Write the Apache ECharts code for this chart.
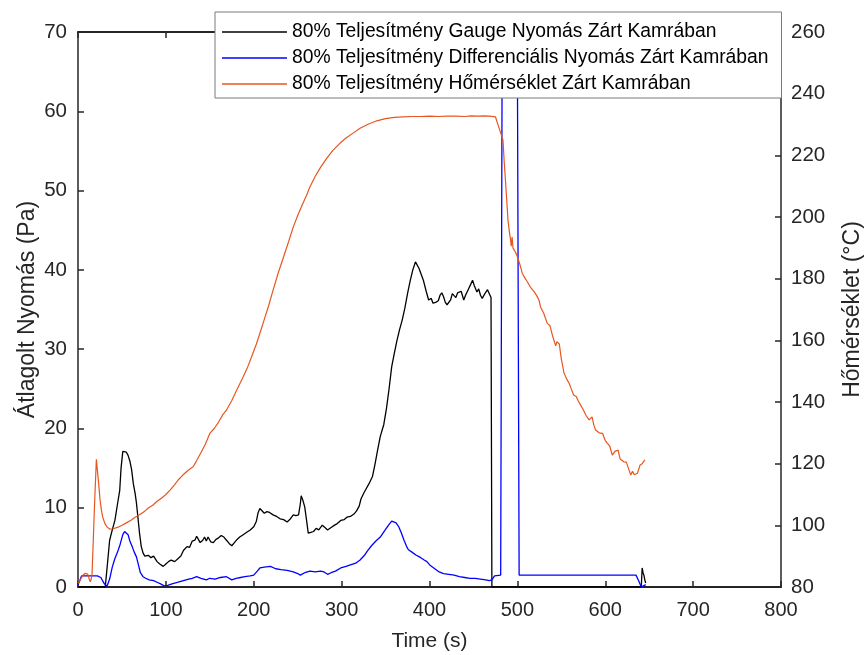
<!DOCTYPE html>
<html>
<head>
<meta charset="utf-8">
<script src="https://cdn.jsdelivr.net/npm/echarts@6/dist/echarts.min.js"></script>
<style>html,body{margin:0;padding:0;background:#fff}#c{width:865px;height:655px}</style>
</head>
<body>
<div id="c"></div>
<script>
const seriesNames = [
  '80% Teljesítmény Gauge Nyomás Zárt Kamrában',
  '80% Teljesítmény Differenciális Nyomás Zárt Kamrában',
  '80% Teljesítmény Hőmérséklet Zárt Kamrában'
];
const xTicks = [0,100,200,300,400,500,600,700,800];
const leftTicks = [0,10,20,30,40,50,60,70];
const rightTicks = [80,100,120,140,160,180,200,220,240,260];

const gaugeTime = [0,31,34,36,39,42,45,47.5,49,51,53,55,57,59,61,63,65,66.5,68,70,72,74,76,78,80,83,86,88,90,93,97,100,103,106,110,114,117,120,124,127,130,133,135,137,139,142,144,146,148,151,154,157,160,163,166,169,172,175,178,181,184,188,192,196,200,203,205,207,209,212,215,218,222,226,230,234,238,241,245,248,251,253,254,256,258,260,262,265,268,271,274,278,281,284,288,292,295,299,303,306,310,314,317,320,322,325,327,331,335,338,341,344,348,351,354,357,360,363,366,369,372,375,378,381,384,386,388,390,393,396,399,402,404,407,410,412,414,416,418,420,422,424,426,428,430,432,434,436,439,441,444,447,449,451,454,456,458,460,463,466,468,470,471,641,642,643,644,645,646];
const gaugeVal = [0,0,3.5,5.9,7.2,8.4,10.5,12.2,15,17.1,16.9,17,16.6,15.9,14.8,13,11.8,10.6,9,6.8,5.1,4.3,3.9,3.8,4.0,3.7,3.9,3.8,3.2,2.9,2.6,2.9,3.2,3.4,3.2,3.6,3.9,4.6,5.1,5.0,5.8,5.9,6.4,6.0,5.6,5.9,6.3,5.8,6.3,5.7,5.6,6.0,6.2,6.5,6.3,5.9,5.5,5.2,5.6,6.0,6.3,6.6,6.9,7.2,7.6,8.3,9.4,9.9,9.8,9.3,9.5,9.4,9.1,8.9,8.6,8.5,8.2,8.5,9.1,9.0,9.1,10.5,11.5,10.9,10.1,8.5,6.8,6.9,7.0,7.4,7.2,7.8,7.5,7.2,7.5,7.8,8.0,8.4,8.5,8.8,8.9,9.2,9.6,10.2,11.1,11.8,12.2,13.0,13.9,15.5,17.3,19,20.5,22.5,25,27.8,29.5,31.1,32.5,33.7,35.2,37,38.6,40,41,40.8,40.2,40,38.7,37.4,36.2,36.4,35.8,35.9,36.1,36.8,37.1,36.6,35.9,35.6,35.6,36.2,37.0,36.8,36.5,37.1,36.9,37.3,36.2,36.8,37.5,38.2,38.7,38.0,37.2,37.6,36.8,36.4,37.0,37.5,37.7,36.5,0,0,2.4,1.8,1.5,0.9,0.5];

const diffTime = [0,2,4,10,16,22,26,30,33,36,39,42,45,48,51,53,55,57,59,62,64,66.5,69,71,74,77,81,86,90,94,98,102,107,114,120,126,130,135,140,146,150,156,162,169,175,180,185,190,196,200,204,207,212,219,225,231,238,245,250,253,258,264,270,276,280,284,288,293,299,305,310,316,321,326,329,334,339,344,349,354,357,359,362,365,368,371,374,376,380,385,390,394,397,401,406,411,416,422,428,434,440,446,452,458,464,468,471,474,481,483,483.5,499,502,560,635,638,641,643,646];
const diffVal = [0.3,0.8,1.4,1.4,1.4,1.4,1.2,0.4,0.1,1.0,2.5,3.6,4.4,5.4,6.6,7.0,6.8,6.6,5.8,5.0,4.4,3.8,2.7,1.8,1.3,1.1,0.9,0.8,0.6,0.4,0.15,0.2,0.4,0.6,0.8,1.0,1.1,1.3,1.1,0.9,1.1,1.0,1.2,1.3,0.9,1.1,1.2,1.3,1.4,1.5,2.0,2.4,2.5,2.6,2.3,2.2,2.1,1.9,1.7,1.5,1.8,2.0,1.9,2.0,1.9,1.6,1.8,2.0,2.4,2.6,2.8,3.0,3.4,4.0,4.5,5.2,5.8,6.3,7.1,7.9,8.3,8.5,8.1,7.6,6.8,5.9,5.1,4.7,4.4,4.0,3.7,3.4,3.2,2.7,2.3,1.9,1.7,1.6,1.5,1.3,1.2,1.1,1.1,1.0,0.9,0.8,0.9,1.4,1.5,1.6,100,100,1.5,1.5,1.5,0.8,0,0.1,0.3];

const tempTime = [0,3,5.7,8,9.5,11,12,13,14,15,16,17,18,19,20,20.9,22,23.5,25,26.6,28,30.4,33,36,40,45.6,50,55,60.8,65,70,76,80,85,90,95,100,105,110,114,120,125,131,135,140,145,150,155,160,165,169,175,180,185,188,193,198,203,207,212,217,222,228,234,240,245,250,255,260,264,270,276,283,290,298,305,313,321,330,340,350,360,370,380,390,400,410,420,430,440,447,455,462,468,475,479,483.6,485,486.6,488,489.3,491,492.3,493,494,495,496,498,500,503,505.6,508,511.3,515,519,522,524.6,526.5,530,534,537,540,543.6,545,547.7,550,553,556,559,561,564,567,569,572,575,578,581.6,585,587,589,593,597,600,602.5,605,608,611,614.6,617,621,624,627,629,631,633,636.6,638,639.7,642,645];
const tempVal = [81.2,82.5,83.9,84.4,84.6,84.2,83.3,82.4,81.7,82.5,84.4,92,100,108,115,121.4,118,113.6,108.5,105,102.8,100.7,99.5,98.8,98.9,99.4,100.0,100.8,101.7,102.6,103.4,104.6,105.6,106.5,107.8,108.8,110,111.5,113.2,114.7,116.5,117.8,119,121,123.6,126.4,129.8,131.4,133.5,136,137.4,140.5,143.5,146.4,148.2,151.3,155,158.8,162.3,166.8,171.3,176.3,182,187.1,192.3,196.8,200.5,203.8,207,209.8,213.2,216.1,219,221.6,223.9,225.6,227.2,228.8,230.1,231.2,231.9,232.3,232.5,232.6,232.6,232.7,232.6,232.7,232.7,232.6,232.8,232.7,232.8,232.7,232.5,229,225,218,211,205,199,195,192.5,190.5,193.5,190,190.4,188.5,187.1,184.5,181.7,180.5,179,177.2,175.8,174.5,173,170.7,168.8,165.5,164.8,161.5,158.2,159.6,158.8,154,149.5,147.5,146,144.5,142.3,141.8,140.5,139,137.5,135.7,134.2,135.2,132.5,130.9,130,129.8,127.5,126.6,125.8,122.8,124,124.4,121.5,120.6,120.5,118,116.3,117.5,116.4,116.9,116.5,119.6,120,121.2];

const pair = (t, v) => t.map((x, i) => [x, v[i]]);
const AX = '#262626';
const FONT = '"Liberation Sans", Arial, Helvetica, sans-serif';

const chart = echarts.init(document.getElementById('c'), null, {renderer: 'canvas'});
chart.setOption({
  animation: false,
  backgroundColor: '#ffffff',
  textStyle: {fontFamily: FONT},
  grid: {left: 78, right: 84, top: 32, bottom: 68, containLabel: false, outerBoundsMode: 'none'},
  legend: {
    orient: 'vertical', left: 215, top: 12,
    padding: [10, 13, 4, 7],
    icon: 'rect',
    itemWidth: 65, itemHeight: 1.3, itemGap: 6,
    backgroundColor: '#ffffff', borderColor: '#7a7a7a', borderWidth: 1,
    textStyle: {fontFamily: FONT, fontSize: 19.3, color: '#000', lineHeight: 20},
    data: seriesNames
  },
  xAxis: [{
    type: 'value', min: xTicks[0], max: xTicks[xTicks.length - 1], interval: 100, position: 'bottom',
    axisLine: {show: true, onZero: false, lineStyle: {color: AX, width: 2}},
    axisTick: {show: true, inside: true, length: 6, lineStyle: {color: AX, width: 1.5}},
    axisLabel: {color: AX, fontSize: 20, margin: 13, fontFamily: FONT},
    splitLine: {show: false},
    name: 'Time (s)', nameLocation: 'middle', nameGap: 44, nameMoveOverlap: false,
    nameTextStyle: {color: AX, fontSize: 21, fontFamily: FONT}
  }, {
    type: 'value', min: xTicks[0], max: xTicks[xTicks.length - 1], interval: 100, position: 'top',
    axisLine: {show: true, onZero: false, lineStyle: {color: AX, width: 2}},
    axisTick: {show: true, inside: true, length: 6, lineStyle: {color: AX, width: 1.5}},
    axisLabel: {show: false}, splitLine: {show: false}
  }],
  yAxis: [{
    type: 'value', min: leftTicks[0], max: leftTicks[leftTicks.length - 1], interval: 10, position: 'left',
    axisLine: {show: true, onZero: false, lineStyle: {color: AX, width: 1.5}},
    axisTick: {show: true, inside: true, length: 6, lineStyle: {color: AX, width: 1.5}},
    axisLabel: {color: AX, fontSize: 20.5, margin: 11, fontFamily: FONT},
    splitLine: {show: false},
    name: 'Átlagolt Nyomás (Pa)', nameLocation: 'middle', nameGap: 39, nameMoveOverlap: false,
    nameTextStyle: {color: AX, fontSize: 23, fontFamily: FONT}
  }, {
    type: 'value', min: rightTicks[0], max: rightTicks[rightTicks.length - 1], interval: 20, position: 'right',
    axisLine: {show: true, onZero: false, lineStyle: {color: AX, width: 1.5}},
    axisTick: {show: true, inside: true, length: 6, lineStyle: {color: AX, width: 1.5}},
    axisLabel: {color: AX, fontSize: 20.5, margin: 10, fontFamily: FONT},
    splitLine: {show: false},
    name: 'Hőmérséklet (°C)', nameLocation: 'middle', nameGap: 60, nameMoveOverlap: false,
    nameTextStyle: {color: AX, fontSize: 23, fontFamily: FONT}
  }],
  series: [{
    name: seriesNames[0], type: 'line', xAxisIndex: 0, yAxisIndex: 0, symbol: 'none', clip: true,
    lineStyle: {color: '#000000', width: 1.3}, itemStyle: {color: '#000000'},
    data: pair(gaugeTime, gaugeVal)
  }, {
    name: seriesNames[1], type: 'line', xAxisIndex: 0, yAxisIndex: 0, symbol: 'none', clip: true,
    lineStyle: {color: '#0000ff', width: 1.3}, itemStyle: {color: '#0000ff'},
    data: pair(diffTime, diffVal)
  }, {
    name: seriesNames[2], type: 'line', xAxisIndex: 0, yAxisIndex: 1, symbol: 'none', clip: true,
    lineStyle: {color: '#e8561f', width: 1.2}, itemStyle: {color: '#e8561f'},
    data: pair(tempTime, tempVal)
  }]
});
</script>
</body>
</html>
